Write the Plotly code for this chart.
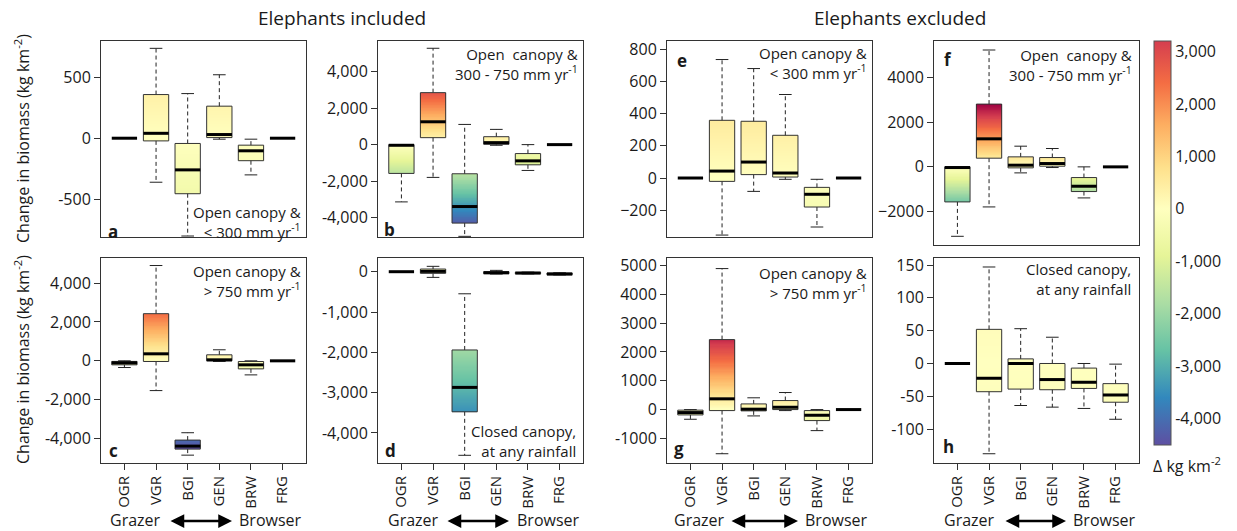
import plotly.graph_objects as go

W, H = 1237, 531

CATEGORIES = ["OGR", "VGR", "BGI", "GEN", "BRW", "FRG"]

# five-number summaries per category: [lower whisker, Q1, median, Q3, upper whisker]
stats_a = [[0, 0, 0, 0, 0], [-360, -22, 40, 357, 735], [-800, -454, -259, -43, 365],
           [-8, 5, 30, 262, 519], [-300, -184, -103, -57, -8], [0, 0, 0, 0, 0]]
stats_b = [[-3131, -1575, -36, 0, 0], [-1792, 380, 1249, 2842, 5267], [-5014, -4290, -3385, -1593, 1104],
           [-36, 18, 109, 434, 833], [-1412, -1104, -887, -489, 0], [0, 0, 0, 0, 0]]
stats_c = [[-344, -206, -103, -30, 0], [-1531, -34, 361, 2426, 4903], [-4852, -4542, -4387, -4077, -3699],
           [-34, 0, 52, 310, 568], [-723, -413, -206, -34, 0], [0, 0, 0, 0, 0]]
stats_d = [[0, 0, 0, 0, 0], [-141, -41, 8, 66, 133], [-4556, -3477, -2871, -1942, -548],
           [-58, -50, -25, 0, 33], [-55, -50, -33, -17, -10], [-80, -75, -58, -33, -25]]
stats_e = [[0, 0, 0, 0, 0], [-354, -21, 43, 358, 735], [-83, 21, 99, 352, 679],
           [-8, 6, 31, 265, 518], [-304, -180, -101, -58, -8], [0, 0, 0, 0, 0]]
stats_f = [[-3104, -1567, -30, 0, 0], [-1791, 388, 1254, 2806, 5224], [-269, -45, 75, 448, 925],
           [-30, 30, 149, 418, 821], [-1388, -1104, -866, -478, 0], [0, 0, 0, 0, 0]]
stats_g = [[-336, -185, -104, -20, 0], [-1531, -35, 373, 2428, 4890], [-220, -45, 14, 196, 408],
           [-35, 0, 81, 313, 591], [-730, -382, -197, -35, 0], [0, 0, 0, 0, 0]]
stats_h = [[0, 0, 0, 0, 0], [-137.5, -43, -22.5, 52, 147], [-64, -39, 0, 7, 53],
           [-66.5, -40, -24.5, 0, 40], [-68.5, -38, -28.6, -7, 0], [-85, -59, -48, -30.7, -1]]

# y tick values / labels per panel
ticks_a = [-500, 0, 500]
labels_a = ["-500", "0", "500"]
ticks_b = [-4000, -2000, 0, 2000, 4000]
labels_b = ["-4,000", "-2,000", "0", "2,000", "4,000"]
ticks_c = [-4000, -2000, 0, 2000, 4000]
labels_c = ["-4,000", "-2,000", "0", "2,000", "4,000"]
ticks_d = [-4000, -3000, -2000, -1000, 0]
labels_d = ["-4,000", "-3,000", "-2,000", "-1,000", "0"]
ticks_e = [-200, 0, 200, 400, 600, 800]
labels_e = ["\u2212200", "0", "200", "400", "600", "800"]
ticks_f = [-2000, 0, 2000, 4000]
labels_f = ["\u22122000", "0", "2000", "4000"]
ticks_g = [-1000, 0, 1000, 2000, 3000, 4000, 5000]
labels_g = ["-1000", "0", "1000", "2000", "3000", "4000", "5000"]
ticks_h = [-100, -50, 0, 50, 100, 150]
labels_h = ["-100", "-50", "0", "50", "100", "150"]

cbar_ticks = [3000, 2000, 1000, 0, -1000, -2000, -3000, -4000]
cbar_labels = ["3,000", "2,000", "1,000", "0", "-1,000", "-2,000", "-3,000", "-4,000"]

notes = {
    "a": "Open canopy &amp;<br>&lt; 300 mm yr<sup>-1</sup>",
    "b": "Open  canopy &amp;<br>300 - 750 mm yr<sup>-1</sup>",
    "c": "Open canopy &amp;<br>&gt; 750 mm yr<sup>-1</sup>",
    "d": "Closed canopy,<br>at any rainfall",
    "e": "Open canopy &amp;<br>&lt; 300 mm yr<sup>-1</sup>",
    "f": "Open  canopy &amp;<br>300 - 750 mm yr<sup>-1</sup>",
    "g": "Open canopy &amp;<br>&gt; 750 mm yr<sup>-1</sup>",
    "h": "Closed canopy,<br>at any rainfall",
}

# ---------------- styling / geometry ----------------
FONT = "Open Sans"
TXT = "#1a1a1a"
SPECTRAL = ["#5e4fa2", "#3288bd", "#66c2a5", "#abdda4", "#e6f598", "#ffffbf",
            "#fee08b", "#fdae61", "#f46d43", "#d53e4f", "#9e0142"]

L_MIN, L_MAX = -4510, 3204
f0 = -L_MIN / (L_MAX - L_MIN)
left_cs = [[f0 * k / 5, SPECTRAL[k]] for k in range(5)] + \
          [[f0 + (1 - f0) * k / 4, SPECTRAL[5 + k]] for k in range(5)]
R_MIN, R_MAX = -2800, 2800
right_cs = [[k / 10, SPECTRAL[k]] for k in range(11)]

# panel: (stats, ticks, labels, yrange, px box (left,right,top,bottom), scale, bottom row, letter pos, note pos)
panels = [
    ("a", stats_a, ticks_a, labels_a, [-808, 795], (101, 306, 41, 237), "L", False, (113, 231), (303, 222)),
    ("b", stats_b, ticks_b, labels_b, [-5050, 5665], (378, 583, 41, 237), "L", False, (389, 229), (580, 64)),
    ("e", stats_e, ticks_e, labels_e, [-366, 850], (667, 872, 41, 237), "R", False, (682, 61), (869, 63)),
    ("f", stats_f, ticks_f, labels_f, [-3493, 5627], (934, 1139, 41, 245), "R", False, (948, 59), (1134, 65)),
    ("c", stats_c, ticks_c, labels_c, [-5256, 5290], (101, 306, 258, 463), "L", True, (113, 450), (303, 281)),
    ("d", stats_d, ticks_d, labels_d, [-4747, 340], (378, 583, 258, 463), "L", True, (390, 450), (578, 441)),
    ("g", stats_g, ticks_g, labels_g, [-1853, 5257], (667, 872, 258, 463), "R", True, (679, 448), (869, 283)),
    ("h", stats_h, ticks_h, labels_h, [-151.6, 160.7], (934, 1139, 258, 463), "R", True, (948, 446), (1133, 279)),
]

def px(x):
    return x / W

def py(y):
    return 1 - y / H

def note(x, y, text, size, **kw):
    d = dict(x=px(x), y=py(y), xref="paper", yref="paper", text=text, showarrow=False,
             xanchor="center", yanchor="middle", font=dict(family=FONT, size=size, color=TXT))
    d.update(kw)
    return d

fig = go.Figure()
layout = {}
annotations = []
NSEG = 60
BW = 0.4   # half box width
CW = 0.2   # half cap width

for i, (key, stats, tv, tt, yr, box, scale, bottom, letter_pos, note_pos) in enumerate(panels, start=1):
    xa = "x" if i == 1 else f"x{i}"
    ya = "y" if i == 1 else f"y{i}"
    cs, cmin, cmax = (left_cs, L_MIN, L_MAX) if scale == "L" else (right_cs, R_MIN, R_MAX)

    # gradient-filled boxes built from stacked bar segments
    bx, bb, by, bc = [], [], [], []
    ox, oy, wx, wy, capx, capy, mx, my = [], [], [], [], [], [], [], []
    for k, (lo, q1, md, q3, hi) in enumerate(stats):
        xc = k + 1
        if q3 > q1:
            h = (q3 - q1) / NSEG
            for s in range(NSEG):
                b0 = q1 + s * h
                bx.append(xc); bb.append(b0); by.append(q3 - b0); bc.append(b0 + h / 2)
            ox += [xc - BW, xc + BW, xc + BW, xc - BW, xc - BW, None]
            oy += [q1, q1, q3, q3, q1, None]
        if hi > q3:
            wx += [xc, xc, None]; wy += [q3, hi, None]
            capx += [xc - CW, xc + CW, None]; capy += [hi, hi, None]
        if lo < q1:
            wx += [xc, xc, None]; wy += [q1, lo, None]
            capx += [xc - CW, xc + CW, None]; capy += [lo, lo, None]
        mx += [xc - BW, xc + BW, None]; my += [md, md, None]

    marker = dict(color=bc, colorscale=cs, cmin=cmin, cmax=cmax, line=dict(width=0))
    if key == "a":
        marker.update(showscale=True, colorbar=dict(
            x=px(1154), xanchor="left", xpad=0, y=py(41), yanchor="top", ypad=0,
            len=404, lenmode="pixels", thickness=17, thicknessmode="pixels",
            outlinewidth=1, outlinecolor="#555", tickvals=cbar_ticks, ticktext=cbar_labels,
            ticks="", tickfont=dict(family=FONT, size=16, color=TXT)))
    fig.add_trace(go.Bar(x=bx, y=by, base=bb, width=2 * BW, marker=marker,
                         xaxis=xa, yaxis=ya, hoverinfo="skip", showlegend=False))
    fig.add_trace(go.Scatter(x=wx, y=wy, mode="lines", line=dict(color="#222", width=1, dash="4px,3px"),
                             xaxis=xa, yaxis=ya, hoverinfo="skip", showlegend=False))
    fig.add_trace(go.Scatter(x=capx, y=capy, mode="lines", line=dict(color="#222", width=1),
                             xaxis=xa, yaxis=ya, hoverinfo="skip", showlegend=False))
    fig.add_trace(go.Scatter(x=ox, y=oy, mode="lines", line=dict(color="#333", width=1),
                             xaxis=xa, yaxis=ya, hoverinfo="skip", showlegend=False))
    fig.add_trace(go.Scatter(x=mx, y=my, mode="lines", line=dict(color="#000", width=3),
                             xaxis=xa, yaxis=ya, hoverinfo="skip", showlegend=False))

    l, r, t, b = box
    xname = "xaxis" if i == 1 else f"xaxis{i}"
    yname = "yaxis" if i == 1 else f"yaxis{i}"
    layout[xname] = dict(
        domain=[px(l), px(r)], anchor=ya, range=[0.26, 6.74],
        tickvals=list(range(1, 7)), ticktext=CATEGORIES,
        showticklabels=bottom, ticks="outside" if bottom else "", ticklen=6, tickcolor="#333",
        tickangle=-90, tickfont=dict(family=FONT, size=15, color=TXT),
        showline=True, linecolor="#333", linewidth=1, mirror=True,
        showgrid=False, zeroline=False, automargin=False, fixedrange=True)
    layout[yname] = dict(
        domain=[py(b), py(t)], anchor=xa, range=yr,
        tickvals=tv, ticktext=tt, ticks="outside", ticklen=6, tickcolor="#333",
        tickfont=dict(family=FONT, size=16, color=TXT),
        showline=True, linecolor="#333", linewidth=1, mirror=True,
        showgrid=False, zeroline=False, automargin=False, fixedrange=True)

    annotations.append(note(letter_pos[0], letter_pos[1], f"<b>{key}</b>", 17))
    annotations.append(note(note_pos[0], note_pos[1], notes[key], 15, xanchor="right", align="right"))

# titles
annotations.append(note(342, 18, "Elephants included", 19))
annotations.append(note(900, 18, "Elephants excluded", 19))
# y-axis titles
for yc in (139, 360):
    annotations.append(note(22, yc, "Change in biomass (kg km<sup>-2</sup>)", 16, textangle=-90))
# Grazer <-> Browser
for gx, a0, a1, brx in [(135, 169, 232, 270), (413, 446, 509, 548), (699, 730, 798, 836), (969, 1004, 1066, 1104)]:
    annotations.append(note(gx, 520, "Grazer", 16))
    annotations.append(note(brx, 520, "Browser", 16))
    annotations.append(dict(x=px(a1), y=py(521), xref="paper", yref="paper", text="",
                            showarrow=True, ax=-(a1 - a0), ay=0, arrowside="end+start",
                            arrowhead=2, arrowsize=1.1, arrowwidth=2.5, arrowcolor="#000",
                            standoff=0, startstandoff=0))
# colorbar title
annotations.append(note(1187, 465, "\u0394 kg km<sup>-2</sup>", 16))

fig.update_layout(
    width=W, height=H, margin=dict(l=0, r=0, t=0, b=0),
    template="none", paper_bgcolor="white", plot_bgcolor="white",
    barmode="overlay", bargap=0, showlegend=False, hovermode=False,
    annotations=annotations, **layout)

fig.write_html("out.html", config={"displayModeBar": False, "staticPlot": True},
               post_script="document.body.style.margin='0px';document.body.style.padding='0px';")
